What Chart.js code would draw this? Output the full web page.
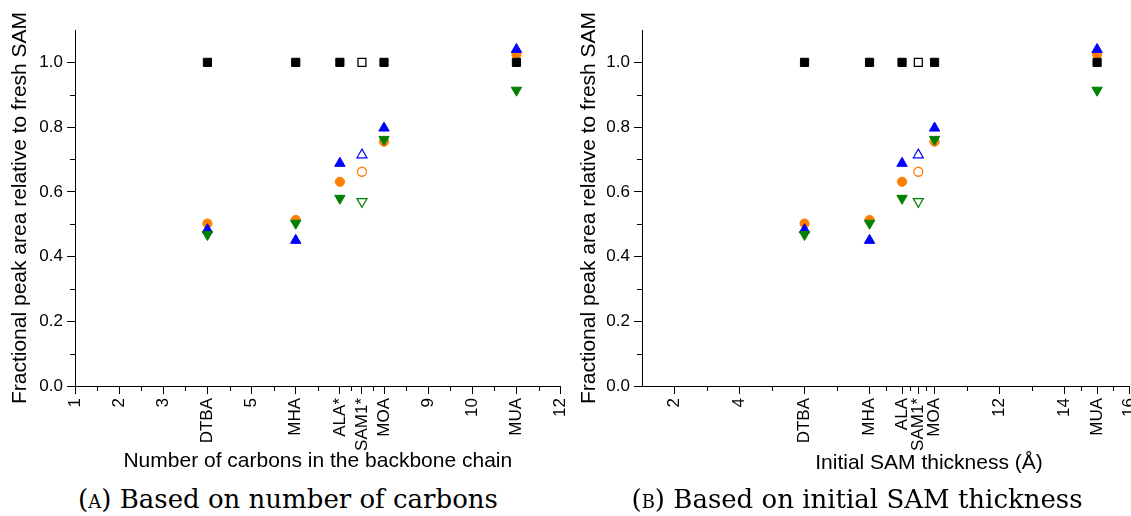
<!DOCTYPE html>
<html>
<head>
<meta charset="utf-8">
<script src="https://cdn.jsdelivr.net/npm/chart.js@4.4.1/dist/chart.umd.min.js"></script>
<style>
  html, body { margin: 0; padding: 0; background: #fff; overflow: hidden; }
  #wrap { position: relative; width: 1131px; height: 516px; overflow: hidden; }
  canvas { position: absolute; top: 0; }
  .caption {
    position: absolute; top: 484px; font-family: "DejaVu Serif", serif; font-size: 26px;
    line-height: 30px; white-space: nowrap; transform: translateX(-50%); color: #000;
  }
  .sc { font-variant: small-caps; }
  #thickTitle {
    position: absolute; top: 449px; left: 929px; transform: translateX(-50%);
    font-family: "Liberation Sans", Arial, sans-serif; font-size: 21px; line-height: 25px;
    white-space: nowrap; color: #000;
  }
</style>
</head>
<body>
<div id="wrap">
  <canvas id="carbonChart" width="585" height="480" style="left:0px"></canvas>
  <canvas id="thickChart" width="579" height="480" style="left:575px"></canvas>
  <div id="thickTitle">Initial SAM thickness (Å)</div>
  <div class="caption" style="left:288px">(<span class="sc">a</span>) Based on number of carbons</div>
  <div class="caption" style="left:857px">(<span class="sc">b</span>) Based on initial SAM thickness</div>
</div>
<script>
// x positions of the compounds (DTBA, MHA, ALA, MOA, MUA) and of SAM1*
const carbonX = [4, 6, 7, 8, 11];
const carbonSamX = [7.5];
const thickX = [6, 8, 9, 10, 15];
const thickSamX = [9.5];

// fractional peak areas
const squareVals = [1.0, 1.0, 1.0, 1.0, 1.0];
const upVals = [0.483, 0.450, 0.688, 0.797, 1.040];
const circleVals = [0.502, 0.513, 0.631, 0.755, 1.025];
const downVals = [0.468, 0.503, 0.580, 0.762, 0.914];
const samSquare = [1.0];
const samUp = [0.714];
const samCircle = [0.662];
const samDown = [0.570];

// axis ticks
const carbonTicks = [1, 2, 3, 4, 5, 6, 7, 7.5, 8, 9, 10, 11, 12];
const carbonLabels = ["1", "2", "3", "DTBA", "5", "MHA", "ALA*", "SAM1*", "MOA", "9", "10", "MUA", "12"];
const carbonMinor = [1.5, 2.5, 3.5, 4.5, 5.5, 6.5, 7.25, 7.75, 8.5, 9.5, 10.5, 11.5];

const thickTicks = [2, 4, 6, 8, 9, 9.5, 10, 12, 14, 15, 16];
const thickLabels = ["2", "4", "DTBA", "MHA", "ALA", "SAM1*", "MOA", "12", "14", "MUA", "16"];
const thickMinor = [3, 5, 7, 8.5, 9.25, 9.75, 11, 13, 14.5, 15.5];

const yTicks = [0, 0.2, 0.4, 0.6, 0.8, 1.0];
const yMinor = [0.1, 0.3, 0.5, 0.7, 0.9];

const FONT = "'Liberation Sans', Arial, sans-serif";
const ORANGE = "#ff8000";
const BLUE = "#0000ff";
const GREEN = "#008000";

function pts(xs, ys) {
  return xs.map((x, i) => ({ x: x, y: ys[i] }));
}

// short minor ticks, placed through the chart scales
const minorTickPlugin = {
  id: "minorTicks",
  afterDraw(chart, args, opts) {
    const { ctx, chartArea } = chart;
    const xs = chart.scales.x;
    const ys = chart.scales.y;
    ctx.save();
    ctx.strokeStyle = "#000";
    ctx.lineWidth = 1;
    ctx.beginPath();
    (opts.x || []).forEach((v) => {
      const px = Math.round(xs.getPixelForValue(v)) + 0.5;
      ctx.moveTo(px, chartArea.bottom);
      ctx.lineTo(px, chartArea.bottom + opts.len);
    });
    (opts.y || []).forEach((v) => {
      const py = Math.round(ys.getPixelForValue(v)) + 0.5;
      ctx.moveTo(chartArea.left - opts.len, py);
      ctx.lineTo(chartArea.left, py);
    });
    ctx.stroke();
    ctx.restore();
  },
};

function buildDatasets(xs, samX) {
  return [
    { data: pts(xs, squareVals), pointStyle: "rect", pointRadius: 5.8, backgroundColor: "#000", borderColor: "#000", borderWidth: 1 },
    { data: pts(samX, samSquare), pointStyle: "rect", pointRadius: 5.6, backgroundColor: "#fff", borderColor: "#000", borderWidth: 1.3 },
    { data: pts(xs, downVals), pointStyle: "triangle", rotation: 180, pointRadius: 6, backgroundColor: GREEN, borderColor: GREEN, borderWidth: 1 },
    { data: pts(samX, samDown), pointStyle: "triangle", rotation: 180, pointRadius: 5.8, backgroundColor: "#fff", borderColor: GREEN, borderWidth: 1.2 },
    { data: pts(xs, upVals), pointStyle: "triangle", pointRadius: 6, backgroundColor: BLUE, borderColor: BLUE, borderWidth: 1 },
    { data: pts(samX, samUp), pointStyle: "triangle", pointRadius: 5.8, backgroundColor: "#fff", borderColor: BLUE, borderWidth: 1.2 },
    { data: pts(xs, circleVals), pointStyle: "circle", pointRadius: 4.6, backgroundColor: ORANGE, borderColor: ORANGE, borderWidth: 1 },
    { data: pts(samX, samCircle), pointStyle: "circle", pointRadius: 4.5, backgroundColor: "#fff", borderColor: ORANGE, borderWidth: 1.3 },
  ];
}

function makeChart(canvasId, cfg) {
  const ctx = document.getElementById(canvasId).getContext("2d");
  return new Chart(ctx, {
    type: "scatter",
    data: { datasets: buildDatasets(cfg.xs, cfg.samX) },
    options: {
      responsive: false,
      animation: false,
      devicePixelRatio: 1,
      events: [],
      layout: { padding: { top: 30, right: 0, bottom: 0, left: 0 } },
      plugins: {
        legend: { display: false },
        tooltip: { enabled: false },
        minorTicks: { x: cfg.minor, y: yMinor, len: 5 },
      },
      scales: {
        x: {
          type: "linear",
          min: cfg.min,
          max: cfg.max,
          afterBuildTicks: (scale) => {
            scale.ticks = cfg.ticks.map((v) => ({ value: v }));
          },
          afterFit: (scale) => {
            scale.height = 94;
          },
          grid: { drawOnChartArea: false, color: "#000", tickLength: 8 },
          border: { color: "#000", width: 1 },
          ticks: {
            autoSkip: false,
            minRotation: 90,
            maxRotation: 90,
            padding: 4,
            color: "#000",
            font: { family: FONT, size: 17 },
            callback: (v, i) => cfg.labels[i],
          },
          title: {
            display: !!cfg.xTitle,
            text: cfg.xTitle || "",
            color: "#000",
            font: { family: FONT, size: 21 },
            padding: { top: 0, bottom: 6 },
          },
        },
        y: {
          type: "linear",
          min: 0,
          max: 1.1,
          afterBuildTicks: (scale) => {
            scale.ticks = yTicks.map((v) => ({ value: v }));
          },
          afterFit: (scale) => {
            scale.width = cfg.yWidth;
          },
          grid: { drawOnChartArea: false, color: "#000", tickLength: 8 },
          border: { color: "#000", width: 1 },
          ticks: {
            padding: 4,
            color: "#000",
            font: { family: FONT, size: 17 },
            callback: (v) => Number(v).toFixed(1),
          },
          title: {
            display: true,
            text: "Fractional peak area relative to fresh SAM",
            color: "#000",
            font: { family: FONT, size: 21 },
            padding: { top: cfg.yTitlePad, bottom: 0 },
          },
        },
      },
    },
    plugins: [minorTickPlugin],
  });
}

makeChart("carbonChart", {
  xs: carbonX,
  samX: carbonSamX,
  min: 1,
  max: 12,
  ticks: carbonTicks,
  labels: carbonLabels,
  minor: carbonMinor,
  xTitle: "Number of carbons in the backbone chain",
  yWidth: 75,
  yTitlePad: 8,
});

makeChart("thickChart", {
  xs: thickX,
  samX: thickSamX,
  min: 1,
  max: 16,
  ticks: thickTicks,
  labels: thickLabels,
  minor: thickMinor,
  xTitle: "",
  yWidth: 67,
  yTitlePad: 2,
});
</script>
</body>
</html>
